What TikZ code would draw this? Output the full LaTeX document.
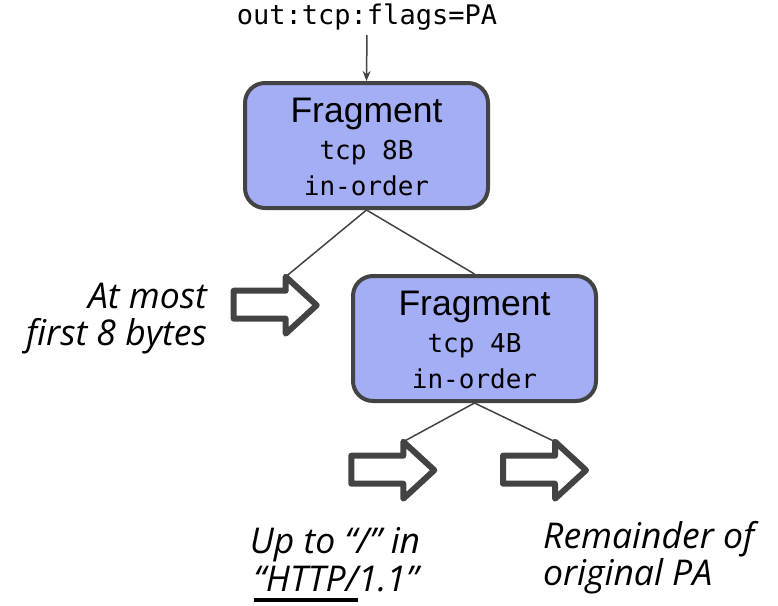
\documentclass[tikz,border=0pt]{standalone}
\usepackage{fontspec}
\setmainfont{Liberation Sans}
\setmonofont{DejaVu Sans Mono}
\newfontfamily\notefont{Open Sans}
\usetikzlibrary{arrows.meta}
\definecolor{boxfill}{RGB}{164,174,244}
\definecolor{ink}{RGB}{67,67,67}
% thick bar under a piece of text
\newsavebox\barbox
\newcommand\barunder[1]{\sbox\barbox{#1}\rlap{\rule[-10.3pt]{\wd\barbox}{4pt}}\usebox\barbox}
\begin{document}
\begin{tikzpicture}[x=1pt,y=-1pt,
  fragbox/.style={draw=ink, line width=4pt, fill=boxfill, rounded corners=20pt,
    minimum width=243pt, minimum height=125pt, inner sep=0pt},
  title/.style={font=\fontsize{35.5}{40}\selectfont, anchor=base, inner sep=0pt},
  code/.style={font=\ttfamily\fontsize{26}{30}\selectfont, anchor=base, inner sep=0pt},
  note/.style={font=\notefont\itshape\fontsize{35.5}{38}\selectfont, anchor=base, inner sep=0pt},
  link/.style={draw=ink, line width=1.5pt},
  hollow/.style={draw=ink, line width=6pt, fill=white, line join=round},
  hollowarrow/.pic={
    \path[hollow] (-52,14) -- (0,14) -- (0,0) -- (31,28.5) -- (0,57) -- (0,42) -- (-52,42) -- cycle;
    \coordinate (-head) at (0,0);
  }]
\useasboundingbox (0,0) rectangle (778,605);

% input filter
\node[code, font=\ttfamily\fontsize{27}{30}\selectfont] (src) at (367,24) {out:tcp:flags=PA};

% fragmentation boxes
\node[fragbox] (f1) at (366.5,145.5) {};
\node[title] (f1t) at (366.5,122.7) {Fragment};
\node[code]  (f1a) at (366.5,159.3) {tcp 8B};
\node[code]  (f1b) at (366.5,195) {in-order};

\node[fragbox] (f2) at (474.5,338.5) {};
\node[title] (f2t) at (474.5,315.7) {Fragment};
\node[code]  (f2a) at (474.5,352.3) {tcp 4B};
\node[code]  (f2b) at (474.5,388) {in-order};

% output segments
\pic (a1) at (285.7,276.7) {hollowarrow};
\pic (a2) at (403.3,441.7) {hollowarrow};
\pic (a3) at (555,441.7) {hollowarrow};

% connectors
\draw[link, shorten <=5pt, -{Stealth[length=10pt,width=8pt]}] (src.south) -- (f1.north);
\draw[link] (f1.south) -- (a1-head);
\draw[link] (f1.south) -- (f2.north);
\draw[link] (f2.south) -- (a2-head);
\draw[link] (f2.south) -- (a3-head);

% segment descriptions
\node[note, anchor=base east] (l1a) at (207,308.3) {At most};
\node[note, anchor=base east] (l1b) at (207,345) {first 8 bytes};
\node[note] (l2a) at (335,553) {Up to “/” in};
\node[note] (l2b) at (336,591.7) {\barunder{“HTTP/}1.1”};
\node[note, anchor=base west] (l3a) at (543,548.3) {Remainder of};
\node[note, anchor=base west] (l3b) at (543,585) {original PA};
\end{tikzpicture}
\end{document}
